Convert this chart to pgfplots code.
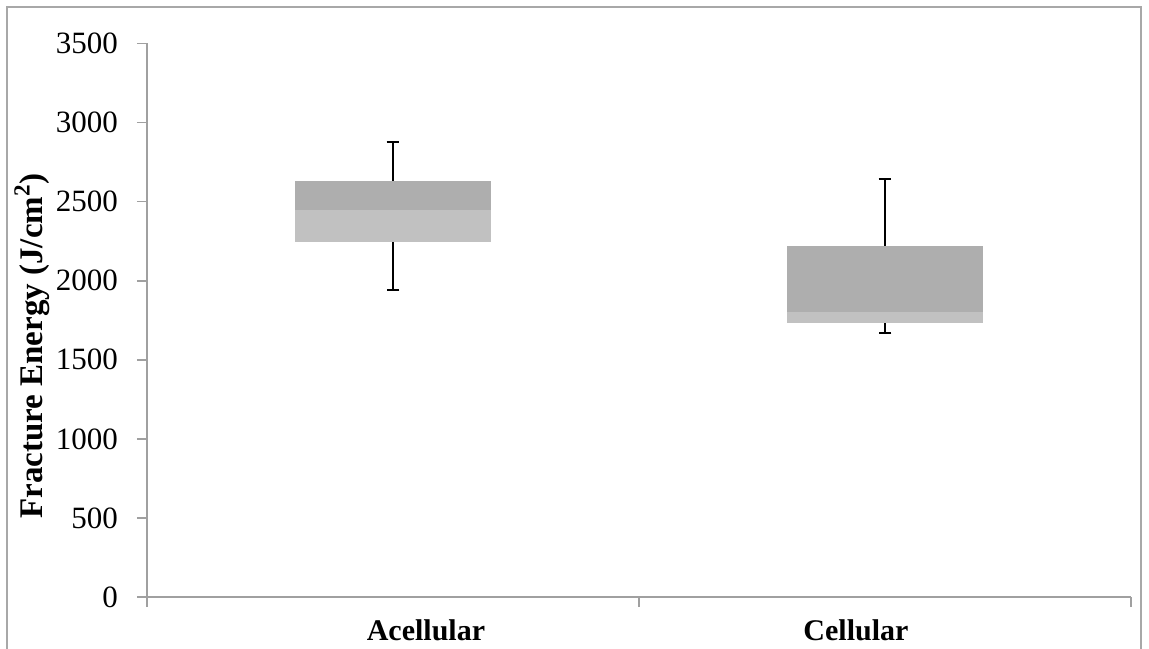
\documentclass[border=0pt]{standalone}
\usepackage{pgfplots}
\pgfplotsset{compat=1.18}
\usepackage{fontspec}
\setmainfont{Liberation Serif}
\definecolor{boxdark}{RGB}{174,174,174}
\definecolor{boxlight}{RGB}{193,193,193}
\definecolor{axgray}{RGB}{160,160,160}
\definecolor{framegray}{RGB}{168,168,168}
\begin{document}
\begin{tikzpicture}
\useasboundingbox (-73.5pt,-25.5pt) rectangle (501pt,298.5pt);
\draw[framegray, line width=1pt] (-70pt,-40pt) -- (-70pt,295pt) -- (497pt,295pt) -- (497pt,-40pt);
\begin{axis}[
  at={(0pt,0pt)}, anchor=south west,
  scale only axis, width=492pt, height=276.75pt,
  xmin=-0.5, xmax=1.5, ymin=0, ymax=3500,
  axis x line*=bottom, axis y line*=left,
  axis line style={axgray, line width=0.8pt, -},
  tick style={axgray, line width=0.8pt},
  tick align=outside, major tick length=5pt,
  ytick={0,500,...,3500},
  xtick={-0.5,0.5,1.5}, xticklabels={},
  extra x ticks={0.067,0.941},
  extra x tick labels={\textbf{Acellular},\textbf{Cellular}},
  extra x tick style={major tick length=0pt},
  /pgf/number format/assume math mode=true,
  /pgf/number format/1000 sep={},
  yticklabel style={font=\fontsize{15.5}{18}\selectfont, xshift=-6pt},
  xticklabel style={font=\fontsize{15}{18}\selectfont, yshift=-8pt},
  ylabel={\textbf{Fracture Energy (J/cm\textsuperscript{2})}},
  every axis y label/.style={at={(rel axis cs:0,0.4535)}, xshift=-57.5pt, rotate=90, anchor=center, font=\fontsize{16.5}{19}\selectfont},
  clip=false,
]
\addplot[draw=none, mark=none,
  error bars/.cd, y dir=both, y explicit,
  error bar style={draw=black, line width=1pt},
  error mark options={draw=black, line width=1pt, mark size=3.2pt, rotate=90}]
  coordinates {(0,2447) += (0,432) -= (0,506) (1,1802) += (0,841) -= (0,135)};
% Acellular box
\addplot[fill=boxlight, draw=none] coordinates {(-0.2,2243) (0.2,2243) (0.2,2447) (-0.2,2447)} -- cycle;
\addplot[fill=boxdark, draw=none] coordinates {(-0.2,2447) (0.2,2447) (0.2,2632) (-0.2,2632)} -- cycle;
% Cellular box
\addplot[fill=boxlight, draw=none] coordinates {(0.8,1735) (1.2,1735) (1.2,1802) (0.8,1802)} -- cycle;
\addplot[fill=boxdark, draw=none] coordinates {(0.8,1802) (1.2,1802) (1.2,2221) (0.8,2221)} -- cycle;
\end{axis}
\end{tikzpicture}
\end{document}
